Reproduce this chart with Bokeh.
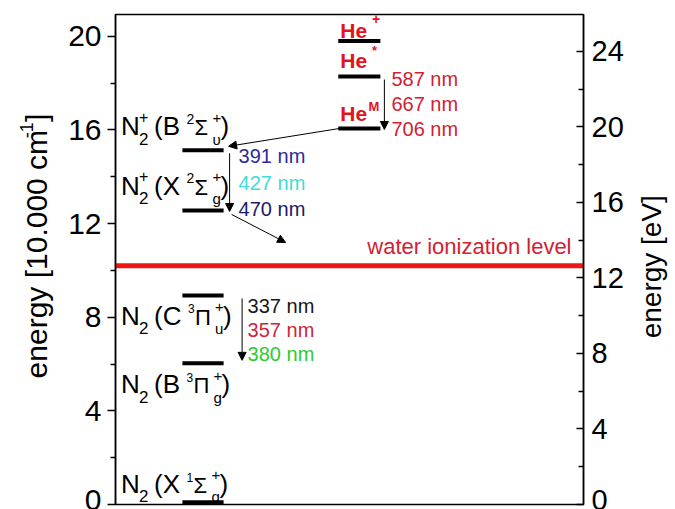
import math
from bokeh.plotting import figure
from bokeh.layouts import row
from bokeh.models import Range1d, LinearAxis, FixedTicker, Arrow, NormalHead
from bokeh.core.properties import value
from bokeh.embed import file_html
from bokeh.resources import INLINE

FONT = "Liberation Sans"

# ---------------- data ----------------
y_max = 20.93            # energy axis top, 10^4 cm^-1
cm_per_ev = 0.80655      # 1 eV expressed in 10^4 cm^-1
x_max = 100.0            # arbitrary horizontal units

left_ticks = [0, 4, 8, 12, 16, 20]
left_minor = [2, 6, 10, 14, 18]
right_ticks = [0, 4, 8, 12, 16, 20, 24]
right_minor = [2, 6, 10, 14, 18, 22]
left_title = ["energy [10.000 cm", "-1", "]"]
right_title = "energy [eV]"

# N2 / N2+ states (10^4 cm^-1)
state_energy = [0.1, 6.03, 8.93, 12.56, 15.13]
state_ion = [False, False, False, True, True]
state_letter = ["X", "B", "C", "X", "B"]
state_mult = ["1", "3", "3", "2", "2"]
state_sym = ["Σ", "Π", "Π", "Σ", "Σ"]
state_sub = ["g", "g", "u", "g", "υ"]

# He states (10^4 cm^-1)
he_energy = [16.06, 18.28, 19.80]
he_sup = ["M", "*", "+"]

water_level = 10.2
water_text = "water ionization level"

n2_col = [14.3, 23.1]
he_col = [47.6, 56.6]

he_lines = ["587 nm", "667 nm", "706 nm"]
he_line_colors = ["#cf2232", "#cf2232", "#cf2232"]
n2p_lines = ["391 nm", "427 nm", "470 nm"]
n2p_line_colors = ["#2b2b9c", "#3fdcdc", "#1b1b6c"]
n2_lines = ["337 nm", "357 nm", "380 nm"]
n2_line_colors = ["#161616", "#d0243a", "#2ecc2e"]

# ---------------- layout sizes ----------------
H = 509
FRAME_W, FRAME_H = 468, 490
LEFT_W = 60
RIGHT_W = 45
MAIN_W = 675 - LEFT_W - RIGHT_W


def side_panel(width):
    f = figure(width=width, height=H, output_backend="svg", toolbar_location=None,
               x_range=Range1d(0, width), y_range=Range1d(0, H),
               x_axis_location=None, y_axis_location=None, min_border=0)
    f.outline_line_color = None
    f.background_fill_color = "white"
    f.border_fill_color = "white"
    f.xgrid.visible = False
    f.ygrid.visible = False
    return f


# ---------------- main figure ----------------
p = figure(width=MAIN_W, height=H, output_backend="svg", toolbar_location=None,
           x_range=Range1d(0, x_max), y_range=Range1d(0, y_max),
           x_axis_location=None, y_axis_location="left",
           min_border_left=115 - LEFT_W, min_border_right=MAIN_W - (115 - LEFT_W) - FRAME_W,
           min_border_top=14, min_border_bottom=5)
p.background_fill_color = "white"
p.border_fill_color = "white"
p.outline_line_color = "black"
p.outline_line_width = 1.5
p.xgrid.visible = False
p.ygrid.visible = False

p.extra_y_ranges = {"ev": Range1d(0, y_max / cm_per_ev)}
ax_r = LinearAxis(y_range_name="ev")
p.add_layout(ax_r, "right")

ax_l = p.yaxis[0]
for ax in (ax_l, ax_r):
    ax.axis_line_width = 1.5
    ax.major_tick_line_width = 1.5
    ax.minor_tick_line_width = 1.5
    ax.major_label_text_font = FONT
    ax.major_label_text_color = "black"

ax_l.major_label_text_font_size = "30px"
ax_r.major_label_text_font_size = "29px"

ax_l.ticker = FixedTicker(ticks=left_ticks, minor_ticks=left_minor)
ax_l.major_tick_out = 8
ax_l.major_tick_in = 0
ax_l.minor_tick_out = 5
ax_l.minor_tick_in = 0
ax_l.major_label_standoff = 6

ax_r.ticker = FixedTicker(ticks=right_ticks, minor_ticks=right_minor)
ax_r.major_tick_out = 0
ax_r.major_tick_in = 7
ax_r.minor_tick_out = 0
ax_r.minor_tick_in = 5
ax_r.major_label_standoff = 8

# ---------------- axis titles (side panels, read bottom-to-top) ----------------
ql = side_panel(LEFT_W)
t_main, t_sup, t_end = left_title
main_len = 8.28 * 30
sup_len = (0.333 + 0.556) * 18
start = H - 378
ql.text(x=[36], y=[start], text=[t_main], angle=math.pi / 2, text_align="left",
        text_baseline="middle", text_font=value(FONT), text_font_size="30px", text_color="black")
ql.text(x=[26], y=[start + main_len + 1], text=[t_sup], angle=math.pi / 2, text_align="left",
        text_baseline="middle", text_font=value(FONT), text_font_size="18px", text_color="black")
ql.text(x=[36], y=[start + main_len + sup_len + 2], text=[t_end], angle=math.pi / 2,
        text_align="left", text_baseline="middle", text_font=value(FONT),
        text_font_size="30px", text_color="black")

qr = side_panel(RIGHT_W)
qr.text(x=[21], y=[H - 262], text=[right_title], angle=math.pi / 2,
        text_align="center", text_baseline="middle", text_font=value(FONT),
        text_font_size="28px", text_color="black")


def dpx(v):
    return v * x_max / FRAME_W


def dpy(v):
    return v * y_max / FRAME_H


BASE_FIX = 0.38   # compensate baseline placement (fraction of font size)


def put(x, y, txt, size, color="black", bold=False, align="left"):
    p.text(x=[x], y=[y + dpy(BASE_FIX * size)], text=[txt], text_font=value(FONT),
           text_font_size=f"{size}px", text_color=color, text_align=align,
           text_baseline="alphabetic", text_font_style="bold" if bold else "normal")


W = {"N": .722, "(": .333, ")": .333, " ": .278, "B": .667, "X": .667, "C": .722,
     "+": .584, "Σ": .62, "Π": .722, "H": .722, "e": .556}


def adv(txt, size):
    return sum(W.get(c, .556) for c in txt) * size


# ---------------- water ionization ----------------
p.segment(x0=[0], y0=[water_level], x1=[x_max], y1=[water_level],
          line_width=5, line_color="#f01414")
put(x_max - dpx(12), water_level + dpy(11), water_text, 22, "#cf2232", align="right")

# ---------------- levels ----------------
p.segment(x0=[n2_col[0]] * len(state_energy), y0=state_energy,
          x1=[n2_col[1]] * len(state_energy), y1=state_energy,
          line_width=4, line_color="black")
p.segment(x0=[he_col[0]] * len(he_energy), y0=he_energy,
          x1=[he_col[1]] * len(he_energy), y1=he_energy,
          line_width=4, line_color="black")

# ---------------- state labels ----------------
label_shift = [8.5, -31, -30, 15, 14]   # baseline px above the level
lab_x = dpx(5.5)
for E, ion, let, mult, sym, sub, sh in zip(state_energy, state_ion, state_letter,
                                            state_mult, state_sym, state_sub, label_shift):
    base = E + dpy(sh)

    def at(dx, dy):
        return lab_x + dpx(dx), base - dpy(dy)

    put(*at(0, 0), "N", 26)
    put(*at(18, 9), "2", 17)
    if ion:
        put(*at(18, -13), "+", 16)
    d = 33.0
    s = "(" + let
    put(*at(d, 0), s, 26)
    d += adv(s, 26) + 6.5
    msize = 14 if ion else 12
    put(*at(d, -12), mult, msize)
    d += adv(mult, msize) + 0.3
    put(*at(d, 0), sym, 22)
    d += 18 if sym == "Σ" else 20
    put(*at(d, -13), "+", 15)
    put(*at(d, 9), sub, 15)
    d += 8
    put(*at(d, 0), ")", 26)

# ---------------- He labels ----------------
he_shift = [6.6, 7.7, 2.4]
he_gap = [1.5, 5, 5]
he_sup_size = [13, 13, 14]
he_sup_dy = [-10, -13, -14]
for E, sup, sh, gap, ss, sdy in zip(he_energy, he_sup, he_shift, he_gap, he_sup_size, he_sup_dy):
    bx = he_col[0] + dpx(2)
    by = E + dpy(sh)
    put(bx, by, "He", 21, "#e4141c", bold=True)
    put(bx + dpx(adv("He", 21) + gap), by - dpy(sdy), sup, ss, "#e4141c", bold=True)


# ---------------- transition labels ----------------
def line_labels(x, ref, offsets, texts, colors):
    for off, t, c in zip(offsets, texts, colors):
        put(x, ref + dpy(off), t, 20, c)


line_labels(he_col[1] + dpx(11), he_energy[0], [42, 17, -8], he_lines, he_line_colors)
line_labels(n2_col[1] + dpx(15), state_energy[3], [46.5, 20, -6], n2p_lines, n2p_line_colors)
line_labels(n2_col[1] + dpx(24), state_energy[1], [50, 26, 1.3], n2_lines, n2_line_colors)


# ---------------- arrows ----------------
def arrow(x0, y0, x1, y1):
    p.add_layout(Arrow(end=NormalHead(size=8, fill_color="black", line_color="black", line_width=1),
                       x_start=x0, y_start=y0, x_end=x1, y_end=y1,
                       line_color="black", line_width=1))


arrow(he_col[1] + dpx(4), he_energy[1] - dpy(3), he_col[1] + dpx(4), he_energy[0] - dpy(1))
arrow(he_col[0] + dpx(1), he_energy[0], n2_col[1] + dpx(5), state_energy[4] + dpy(4))
arrow(n2_col[1] + dpx(6), state_energy[4] - dpy(3), n2_col[1] + dpx(6), state_energy[3] - dpy(1))
arrow(n2_col[1] + dpx(8), state_energy[3] - dpy(4), n2_col[1] + dpx(62), state_energy[3] - dpy(32))
arrow(n2_col[1] + dpx(18.5), state_energy[2] - dpy(3), n2_col[1] + dpx(18.5), state_energy[1] + dpy(3))

layout = row(ql, p, qr, spacing=0)
open("out.html", "w").write(file_html(layout, INLINE))
